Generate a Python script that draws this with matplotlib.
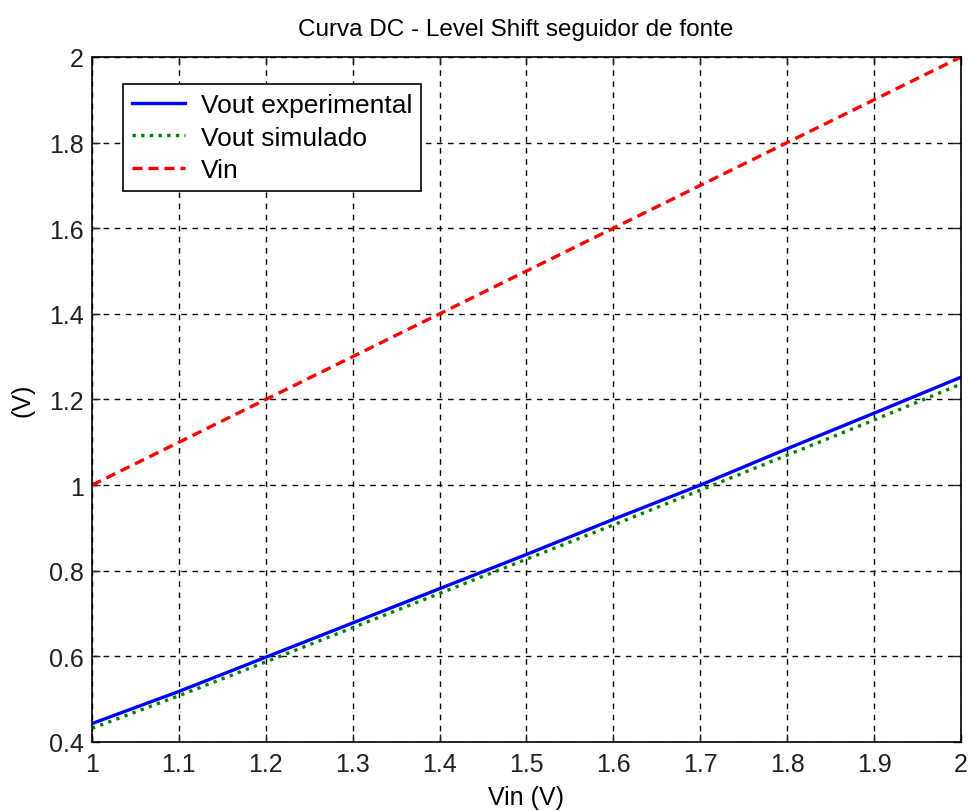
import matplotlib
matplotlib.use("Agg")
import matplotlib.pyplot as plt
from matplotlib import font_manager

names = {f.name for f in font_manager.fontManager.ttflist}
narrow = 'Liberation Sans Narrow' if 'Liberation Sans Narrow' in names else 'Liberation Sans'
plt.rcParams['font.family'] = [narrow, 'DejaVu Sans']
fs = 22 if narrow == 'Liberation Sans Narrow' else 18

vin = [1.0, 1.1, 1.2, 1.3, 1.4, 1.5, 1.6, 1.7, 1.8, 1.9, 2.0]
vout_exp = [0.443, 0.518, 0.598, 0.678, 0.758, 0.838, 0.920, 1.000, 1.085, 1.168, 1.252]
vout_sim = [0.432, 0.508, 0.587, 0.667, 0.747, 0.827, 0.907, 0.988, 1.070, 1.152, 1.236]
vin_ref = [1.0, 1.1, 1.2, 1.3, 1.4, 1.5, 1.6, 1.7, 1.8, 1.9, 2.0]

xticks = [1, 1.1, 1.2, 1.3, 1.4, 1.5, 1.6, 1.7, 1.8, 1.9, 2]
xticklabels = ['1', '1.1', '1.2', '1.3', '1.4', '1.5', '1.6', '1.7', '1.8', '1.9', '2']
yticks = [0.4, 0.6, 0.8, 1.0, 1.2, 1.4, 1.6, 1.8, 2.0]
yticklabels = ['0.4', '0.6', '0.8', '1', '1.2', '1.4', '1.6', '1.8', '2']

fig = plt.figure(figsize=(9.69, 8.12), dpi=100)
ax = fig.add_axes([0.0949, 0.085, 0.8968, 0.8436])

ax.plot(vin, vout_exp, color='#0000ff', lw=2.4, label='Vout experimental')
ax.plot(vin, vout_sim, color='#008000', lw=2.4, ls=(0, (1, 1.6)), label='Vout simulado')
ax.plot(vin, vin_ref, color='#ff0000', lw=2.4, ls=(0, (3, 1.8)), label='Vin')

ax.set_xlim(1, 2)
ax.set_ylim(0.4, 2)
ax.set_xticks(xticks)
ax.set_xticklabels(xticklabels)
ax.set_yticks(yticks)
ax.set_yticklabels(yticklabels)
ax.grid(True, color='black', ls=(0, (4, 4)), lw=1)
ax.tick_params(direction='in', top=True, right=True, length=6, width=1,
               labelsize=fs, colors='#202020')
ax.tick_params(axis='x', pad=7)
ax.tick_params(axis='y', pad=6)
for s in ax.spines.values():
    s.set_linewidth(1.2)

ax.set_title('Curva DC - Level Shift seguidor de fonte', fontsize=fs - 0.5, pad=16, x=0.488)
ax.set_xlabel('Vin (V)', fontsize=fs, labelpad=7)
ax.set_ylabel('(V)', fontsize=fs, labelpad=10)

leg = ax.legend(loc='upper left', bbox_to_anchor=(0.0357, 0.9606), borderaxespad=0,
                fontsize=fs + 1, fancybox=False, framealpha=1, edgecolor='black',
                handlelength=2.0, handletextpad=0.6, labelspacing=0.32, borderpad=0.35)
leg.get_frame().set_linewidth(1.2)

fig.savefig('out.png', dpi=100)
